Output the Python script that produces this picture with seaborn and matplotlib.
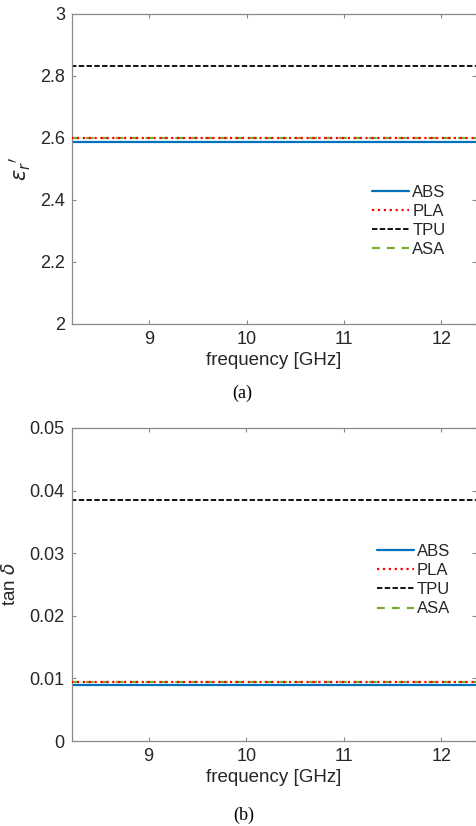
import numpy as np
import pandas as pd
import matplotlib
matplotlib.use("Agg")
import matplotlib.pyplot as plt
import seaborn as sns
from matplotlib.ticker import FuncFormatter

# -----------------------------
# Data
# -----------------------------
freq = [8.2, 9.0, 10.0, 11.0, 12.0, 12.4]
materials = ["ABS", "PLA", "TPU", "ASA"]

eps_abs = [2.586, 2.586, 2.586, 2.586, 2.586, 2.586]
eps_pla = [2.601, 2.601, 2.601, 2.601, 2.601, 2.601]
eps_tpu = [2.832, 2.832, 2.832, 2.832, 2.832, 2.832]
eps_asa = [2.600, 2.600, 2.600, 2.600, 2.600, 2.600]

tan_abs = [0.0089, 0.0089, 0.0089, 0.0089, 0.0089, 0.0089]
tan_pla = [0.0095, 0.0095, 0.0095, 0.0095, 0.0095, 0.0095]
tan_tpu = [0.0385, 0.0385, 0.0385, 0.0385, 0.0385, 0.0385]
tan_asa = [0.0094, 0.0094, 0.0094, 0.0094, 0.0094, 0.0094]

eps_ticks = [2, 2.2, 2.4, 2.6, 2.8, 3]
tan_ticks = [0, 0.01, 0.02, 0.03, 0.04, 0.05]
x_ticks = [9, 10, 11, 12]

# -----------------------------
# Style
# -----------------------------
sns.set_style("white")
plt.rcParams['font.family'] = ['Liberation Sans', 'DejaVu Sans']
plt.rcParams['mathtext.fontset'] = 'dejavusans'

colors = {"ABS": "#0072BD", "PLA": "#FF0000", "TPU": "#000000", "ASA": "#77AC30"}
styles = {"ABS": "-", "PLA": ":", "TPU": (0, (3, 1.3)), "ASA": (0, (3.5, 3.2))}
widths = {"ABS": 1.6, "PLA": 1.6, "TPU": 1.3, "ASA": 1.6}
zorders = {"ABS": 2, "PLA": 4, "TPU": 2, "ASA": 3}

eps_data = {"ABS": eps_abs, "PLA": eps_pla, "TPU": eps_tpu, "ASA": eps_asa}
tan_data = {"ABS": tan_abs, "PLA": tan_pla, "TPU": tan_tpu, "ASA": tan_asa}

W, H = 477, 826
fig = plt.figure(figsize=(W / 100, H / 100), dpi=100)
ax1 = fig.add_axes([72 / W, 1 - 324 / H, 404 / W, 310 / H])
ax2 = fig.add_axes([71.5 / W, 1 - 741 / H, 404.5 / W, 313 / H])

spine_col = "#8a8a8a"
text_col = "#262626"


def draw_panel(ax, data, yticks, ylim, ylabel, ylab_size, leg_anchor):
    for m in materials:
        sns.lineplot(x=freq, y=data[m], ax=ax, color=colors[m], linestyle=styles[m],
                     linewidth=widths[m], label=m, zorder=zorders[m])
    ax.set_xlim(8.21, 12.354)
    ax.set_ylim(*ylim)
    ax.set_xticks(x_ticks)
    ax.set_yticks(yticks)
    ax.yaxis.set_major_formatter(FuncFormatter(lambda v, p: f"{v:g}"))
    ax.tick_params(direction="in", length=3, width=0.8, color=spine_col,
                   labelsize=13, labelcolor=text_col, top=True, right=True,
                   bottom=True, left=True, pad=5)
    for s in ["left", "bottom", "top"]:
        ax.spines[s].set_color(spine_col)
        ax.spines[s].set_linewidth(0.9)
    ax.spines["right"].set_color("#e6e6e6")
    ax.set_xlabel("frequency [GHz]", fontsize=13.5, color=text_col, labelpad=3)
    ax.set_ylabel(ylabel, fontsize=ylab_size, color=text_col)
    ax.legend(loc="center left", bbox_to_anchor=leg_anchor, frameon=False,
              fontsize=12, handlelength=2.2, handletextpad=0.2,
              labelspacing=0.25, borderpad=0, borderaxespad=0)


draw_panel(ax1, eps_data, eps_ticks, (2, 3), r"$\epsilon_r{}'$", 15, (0.743, 0.332))
draw_panel(ax2, tan_data, tan_ticks, (0, 0.05), r"tan $\delta$", 13.5, (0.755, 0.514))
ax1.yaxis.set_label_coords(-0.097, 0.5)
ax2.yaxis.set_label_coords(-0.129, 0.5)

fig.text(242 / W, 1 - 393 / H, "(a)", ha="center", va="center",
         fontsize=13, family="Liberation Serif", color="black")
fig.text(244 / W, 1 - 815 / H, "(b)", ha="center", va="center",
         fontsize=13, family="Liberation Serif", color="black")

fig.savefig("out.png", dpi=100)
